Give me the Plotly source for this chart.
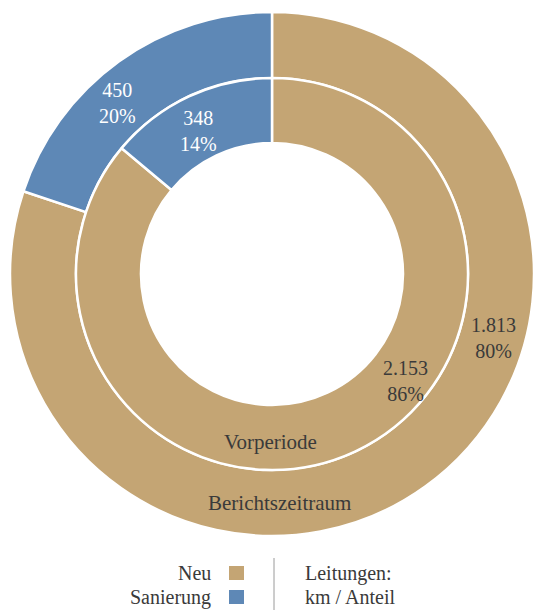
import plotly.graph_objects as go

# ---- data -------------------------------------------------------------
categories = ["Neu", "Sanierung"]
km_berichtszeitraum = [1813, 450]   # outer ring
km_vorperiode = [2153, 348]         # inner ring
ring_names = ["Berichtszeitraum", "Vorperiode"]
legend_note = ["Leitungen:", "km / Anteil"]

colors = ["#C4A574", "#5E88B6"]
text_colors = ["#3a3a3a", "#ffffff"]

# ---- layout constants -------------------------------------------------
W, H = 534, 610
CX, CY = 272, 274          # pie centre in pixels
R_OUT, R_MID, R_HOLE = 262, 196, 131
FONT = "Liberation Serif"
FS = 20


def px(x):
    return x / W


def py(y):
    return 1 - y / H


def fmt_km(v):
    return f"{v:,}".replace(",", ".")


def shares(values):
    total = sum(values)
    return [round(v / total * 100) for v in values]


fig = go.Figure()

fig.add_trace(go.Pie(
    labels=categories, values=km_berichtszeitraum, name=ring_names[0],
    hole=R_MID / R_OUT, sort=False, direction="clockwise", rotation=0,
    marker=dict(colors=colors, line=dict(color="white", width=2.5)),
    textinfo="none", hoverinfo="label+value+percent", showlegend=False,
    domain=dict(x=[px(CX - R_OUT), px(CX + R_OUT)], y=[py(CY + R_OUT), py(CY - R_OUT)]),
))
fig.add_trace(go.Pie(
    labels=categories, values=km_vorperiode, name=ring_names[1],
    hole=R_HOLE / R_MID, sort=False, direction="clockwise", rotation=0,
    marker=dict(colors=colors, line=dict(color="white", width=2.5)),
    textinfo="none", hoverinfo="label+value+percent", showlegend=False,
    domain=dict(x=[px(CX - R_MID), px(CX + R_MID)], y=[py(CY + R_MID), py(CY - R_MID)]),
))

annotations = []


def add_text(x, y, text, color="#3a3a3a", xanchor="center", size=FS):
    annotations.append(dict(
        x=px(x), y=py(y), xref="paper", yref="paper", text=text,
        showarrow=False, xanchor=xanchor, yanchor="middle",
        align=xanchor if xanchor != "center" else "center",
        font=dict(family=FONT, size=size, color=color),
    ))


# value labels: (pixel offset from centre) per ring and category
label_pos_outer = [(221, 64), (-155, -171)]
label_pos_inner = [(133, 107), (-74, -143)]

for vals, pos in ((km_berichtszeitraum, label_pos_outer), (km_vorperiode, label_pos_inner)):
    pct = shares(vals)
    for i, v in enumerate(vals):
        dx, dy = pos[i]
        add_text(CX + dx, CY + dy, f"{fmt_km(v)}<br>{pct[i]}%", color=text_colors[i])

# ring names
add_text(279, 503, ring_names[0], size=21)
add_text(270, 442, ring_names[1], size=21)

# legend block
legend_rows_y = [573, 597]
for i, cat in enumerate(categories):
    add_text(213, legend_rows_y[i], cat, xanchor="right")
    fig.add_shape(type="rect", xref="paper", yref="paper",
                  x0=px(229), x1=px(244), y0=py(legend_rows_y[i] + 7), y1=py(legend_rows_y[i] - 7),
                  fillcolor=colors[i], line=dict(width=0))
for i, t in enumerate(legend_note):
    add_text(303, legend_rows_y[i], t, xanchor="left")

fig.add_shape(type="line", xref="paper", yref="paper",
              x0=px(274), x1=px(274), y0=py(558), y1=py(612),
              line=dict(color="#9a9a9a", width=1))

fig.update_layout(
    width=W, height=H,
    margin=dict(l=0, r=0, t=0, b=0),
    paper_bgcolor="white", plot_bgcolor="white",
    font=dict(family=FONT),
    annotations=annotations,
    showlegend=False,
)

fig.write_html("out.html")
